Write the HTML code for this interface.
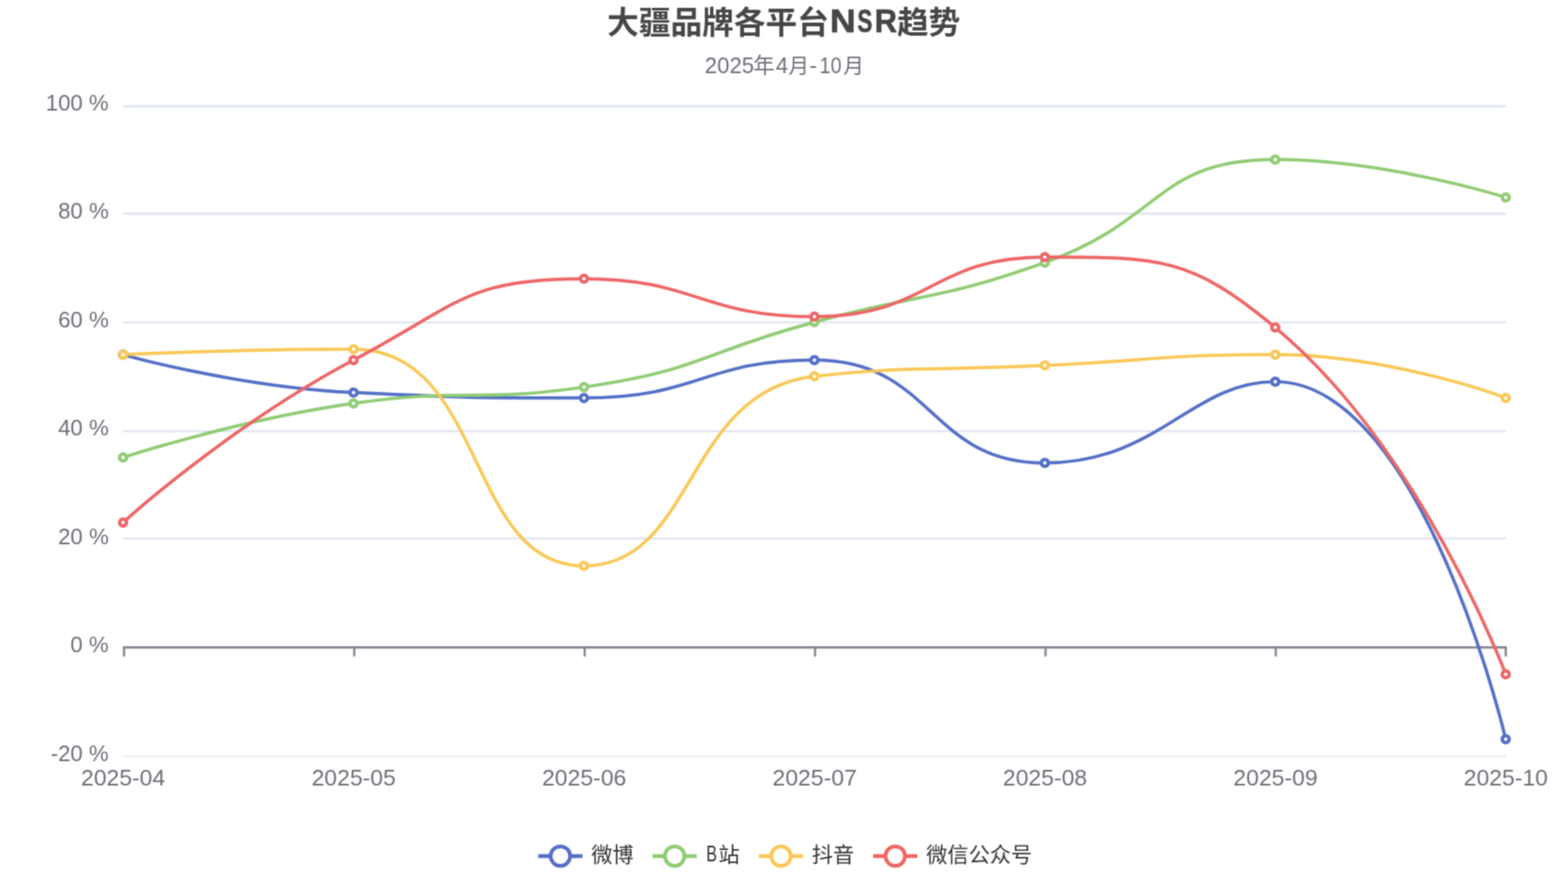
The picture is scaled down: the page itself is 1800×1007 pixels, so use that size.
<!DOCTYPE html>
<html lang="zh-CN"><head><meta charset="utf-8"><title>大疆品牌各平台NSR趋势</title>
<style>html,body{margin:0;padding:0;background:#fff;font-family:"Liberation Sans",sans-serif}svg{display:block;}</style>
</head><body>
<svg width="1800" height="1007" viewBox="0 0 1800 1007" font-family="Liberation Sans, sans-serif">
<defs><filter id="soft" filterUnits="userSpaceOnUse" x="0" y="0" width="1800" height="1007" color-interpolation-filters="sRGB"><feConvolveMatrix order="3" kernelMatrix="0.04000 0.12000 0.04000 0.12000 0.36000 0.12000 0.04000 0.12000 0.04000" divisor="1" edgeMode="duplicate" preserveAlpha="true"/></filter></defs>
<g filter="url(#soft)">
<rect width="1800" height="1007" fill="#fff"/>
<g stroke="#E0E6F1" stroke-width="2.4" fill="none">
<path stroke-width="2.8" d="M141.3 122.10H1728.5"/>
<path stroke-width="2.4" d="M141.3 245.20H1728.5"/>
<path stroke-width="2.4" d="M141.3 370.10H1728.5"/>
<path stroke-width="2.4" d="M141.3 495.10H1728.5"/>
<path stroke-width="2.4" d="M141.3 618.30H1728.5"/>
<path stroke-width="1.5" d="M141.3 868.40H1728.5"/>
</g>
<g stroke="#858893" stroke-width="2.6" fill="none">
<path d="M140.9 743.40H1729.8"/>
<path d="M142.40 743.40V753.80"/>
<path d="M406.73 743.40V753.80"/>
<path d="M671.17 743.40V753.80"/>
<path d="M935.70 743.40V753.80"/>
<path d="M1200.23 743.40V753.80"/>
<path d="M1464.57 743.40V753.80"/>
<path d="M1728.50 743.40V753.80"/>
</g>
<g>
<text x="52.50" y="127.00" font-size="25.5" fill="#6E7079" textLength="72.30" lengthAdjust="spacingAndGlyphs">100 %</text>
<text x="66.69" y="251.42" font-size="25.5" fill="#6E7079" textLength="58.12" lengthAdjust="spacingAndGlyphs">80 %</text>
<text x="66.69" y="375.84" font-size="25.5" fill="#6E7079" textLength="58.12" lengthAdjust="spacingAndGlyphs">60 %</text>
<text x="66.69" y="500.26" font-size="25.5" fill="#6E7079" textLength="58.12" lengthAdjust="spacingAndGlyphs">40 %</text>
<text x="66.69" y="624.68" font-size="25.5" fill="#6E7079" textLength="58.12" lengthAdjust="spacingAndGlyphs">20 %</text>
<text x="80.87" y="749.10" font-size="25.5" fill="#6E7079" textLength="43.94" lengthAdjust="spacingAndGlyphs">0 %</text>
<text x="58.20" y="873.52" font-size="25.5" fill="#6E7079" textLength="66.61" lengthAdjust="spacingAndGlyphs">-20 %</text>
</g>
<g>
<text x="93.13" y="901.50" font-size="25.5" fill="#6E7079" textLength="96.39" lengthAdjust="spacingAndGlyphs">2025-04</text>
<text x="357.66" y="901.50" font-size="25.5" fill="#6E7079" textLength="96.73" lengthAdjust="spacingAndGlyphs">2025-05</text>
<text x="622.19" y="901.50" font-size="25.5" fill="#6E7079" textLength="96.79" lengthAdjust="spacingAndGlyphs">2025-06</text>
<text x="886.72" y="901.50" font-size="25.5" fill="#6E7079" textLength="96.96" lengthAdjust="spacingAndGlyphs">2025-07</text>
<text x="1151.26" y="901.50" font-size="25.5" fill="#6E7079" textLength="96.77" lengthAdjust="spacingAndGlyphs">2025-08</text>
<text x="1415.79" y="901.50" font-size="25.5" fill="#6E7079" textLength="96.88" lengthAdjust="spacingAndGlyphs">2025-09</text>
<text x="1680.33" y="901.50" font-size="25.5" fill="#6E7079" textLength="96.65" lengthAdjust="spacingAndGlyphs">2025-10</text>
</g>
<path d="M141.30 407.17C141.30 407.17 272.70 444.41 405.83 450.71C537.23 456.93 538.97 456.93 670.37 456.93C803.50 456.93 807.77 413.39 934.90 413.39C1072.30 413.39 1065.03 531.59 1199.43 531.59C1329.56 531.59 1367.46 438.27 1463.97 438.27C1632.00 438.27 1728.50 848.86 1728.50 848.86" fill="none" stroke="#5470c6" stroke-width="3.7" stroke-linejoin="bevel"/>
<path d="M141.30 525.37C141.30 525.37 271.95 482.28 405.83 463.16C536.48 444.49 540.47 463.16 670.37 444.49C805.00 425.15 802.24 405.72 934.90 369.84C1066.77 334.18 1071.04 346.70 1199.43 301.41C1335.58 253.38 1326.57 183.21 1463.97 183.21C1591.10 183.21 1728.50 226.76 1728.50 226.76" fill="none" stroke="#91cc75" stroke-width="3.7" stroke-linejoin="bevel"/>
<path d="M141.30 407.17C141.30 407.17 294.33 400.94 405.83 400.94C558.87 400.94 534.25 649.79 670.37 649.79C798.78 649.79 785.69 448.15 934.90 432.05C1050.23 419.61 1067.17 425.83 1199.43 419.61C1331.70 413.39 1332.78 407.17 1463.97 407.17C1597.31 407.17 1728.50 456.93 1728.50 456.93" fill="none" stroke="#fac858" stroke-width="3.7" stroke-linejoin="bevel"/>
<path d="M141.30 600.02C141.30 600.02 264.10 488.38 405.83 413.39C528.64 348.41 535.11 320.07 670.37 320.07C799.64 320.07 803.89 363.62 934.90 363.62C1068.42 363.62 1067.98 295.19 1199.43 295.19C1332.51 295.19 1367.00 295.19 1463.97 376.06C1631.53 515.81 1728.50 774.21 1728.50 774.21" fill="none" stroke="#ee6666" stroke-width="3.7" stroke-linejoin="bevel"/>
<g fill="#fff" stroke="#5470c6" stroke-width="4">
<circle cx="141.30" cy="407.17" r="4"/>
<circle cx="405.83" cy="450.71" r="4"/>
<circle cx="670.37" cy="456.93" r="4"/>
<circle cx="934.90" cy="413.39" r="4"/>
<circle cx="1199.43" cy="531.59" r="4"/>
<circle cx="1463.97" cy="438.27" r="4"/>
<circle cx="1728.50" cy="848.86" r="4"/>
</g>
<g fill="#fff" stroke="#91cc75" stroke-width="4">
<circle cx="141.30" cy="525.37" r="4"/>
<circle cx="405.83" cy="463.16" r="4"/>
<circle cx="670.37" cy="444.49" r="4"/>
<circle cx="934.90" cy="369.84" r="4"/>
<circle cx="1199.43" cy="301.41" r="4"/>
<circle cx="1463.97" cy="183.21" r="4"/>
<circle cx="1728.50" cy="226.76" r="4"/>
</g>
<g fill="#fff" stroke="#fac858" stroke-width="4">
<circle cx="141.30" cy="407.17" r="4"/>
<circle cx="405.83" cy="400.94" r="4"/>
<circle cx="670.37" cy="649.79" r="4"/>
<circle cx="934.90" cy="432.05" r="4"/>
<circle cx="1199.43" cy="419.61" r="4"/>
<circle cx="1463.97" cy="407.17" r="4"/>
<circle cx="1728.50" cy="456.93" r="4"/>
</g>
<g fill="#fff" stroke="#ee6666" stroke-width="4">
<circle cx="141.30" cy="600.02" r="4"/>
<circle cx="405.83" cy="413.39" r="4"/>
<circle cx="670.37" cy="320.07" r="4"/>
<circle cx="934.90" cy="363.62" r="4"/>
<circle cx="1199.43" cy="295.19" r="4"/>
<circle cx="1463.97" cy="376.06" r="4"/>
<circle cx="1728.50" cy="774.21" r="4"/>
</g>
<text x="697.05" y="39.40" font-size="36.35" fill="#464646" font-weight="bold" font-family="Liberation Sans, Noto Sans CJK SC, sans-serif" textLength="254.45" lengthAdjust="spacingAndGlyphs">大疆品牌各平台</text>
<text stroke="#464646" stroke-width="0.7" x="952.86" y="37.10" font-size="36.3" fill="#464646" font-weight="bold" textLength="29.60" lengthAdjust="spacingAndGlyphs">N</text>
<text stroke="#464646" stroke-width="0.7" x="984.26" y="37.10" font-size="36.3" fill="#464646" font-weight="bold" textLength="17.14" lengthAdjust="spacingAndGlyphs">S</text>
<text stroke="#464646" stroke-width="0.7" x="1003.91" y="37.10" font-size="36.3" fill="#464646" font-weight="bold" textLength="25.83" lengthAdjust="spacingAndGlyphs">R</text>
<text x="1029.70" y="39.40" font-size="36.3" fill="#464646" font-weight="bold" font-family="Liberation Sans, Noto Sans CJK SC, sans-serif" textLength="72.6" lengthAdjust="spacingAndGlyphs">趋势</text>
<g>
<text x="809.12" y="83.75" font-size="25.4" fill="#6E7079" textLength="56.55" lengthAdjust="spacingAndGlyphs">2025</text>
<text x="864.75" y="83.75" font-size="24.5" fill="#6E7079" font-family="Liberation Sans, Noto Sans CJK SC, sans-serif">年</text>
<text x="890.41" y="83.75" font-size="25.4" fill="#6E7079" textLength="14.35" lengthAdjust="spacingAndGlyphs">4</text>
<text x="905.34" y="83.75" font-size="23.4" fill="#6E7079" font-family="Liberation Sans, Noto Sans CJK SC, sans-serif">月</text>
<text x="929.24" y="83.75" font-size="25.4" fill="#6E7079" textLength="8.73" lengthAdjust="spacingAndGlyphs">-</text>
<text x="940.87" y="83.75" font-size="25.4" fill="#6E7079" textLength="25.21" lengthAdjust="spacingAndGlyphs">10</text>
<text x="968.02" y="83.75" font-size="23.8" fill="#6E7079" font-family="Liberation Sans, Noto Sans CJK SC, sans-serif">月</text>
</g>
<path d="M617.9 983.0H668.7" stroke="#5470c6" stroke-width="4.3" fill="none"/>
<circle cx="643.3" cy="983.0" r="11.2" fill="#fff" stroke="#5470c6" stroke-width="4.2"/>
<text x="678.70" y="989.75" font-size="24.35" fill="#333" font-family="Liberation Sans, Noto Sans CJK SC, sans-serif" textLength="48.7" lengthAdjust="spacingAndGlyphs">微博</text>
<path d="M749.1 983.0H799.9" stroke="#91cc75" stroke-width="4.3" fill="none"/>
<circle cx="774.5" cy="983.0" r="11.2" fill="#fff" stroke="#91cc75" stroke-width="4.2"/>
<text x="810.87" y="989.00" font-size="25.4" fill="#333" textLength="12.41" lengthAdjust="spacingAndGlyphs">B</text>
<text x="824.70" y="989.75" font-size="24.35" fill="#333" font-family="Liberation Sans, Noto Sans CJK SC, sans-serif">站</text>
<path d="M871.1 983.0H921.9" stroke="#fac858" stroke-width="4.3" fill="none"/>
<circle cx="896.5" cy="983.0" r="11.2" fill="#fff" stroke="#fac858" stroke-width="4.2"/>
<text x="932.00" y="989.75" font-size="24.35" fill="#333" font-family="Liberation Sans, Noto Sans CJK SC, sans-serif" textLength="48.7" lengthAdjust="spacingAndGlyphs">抖音</text>
<path d="M1002.3 983.0H1053.1" stroke="#ee6666" stroke-width="4.3" fill="none"/>
<circle cx="1027.7" cy="983.0" r="11.2" fill="#fff" stroke="#ee6666" stroke-width="4.2"/>
<text x="1063.20" y="989.75" font-size="24.35" fill="#333" font-family="Liberation Sans, Noto Sans CJK SC, sans-serif" textLength="121.75" lengthAdjust="spacingAndGlyphs">微信公众号</text>
</g>
</svg>
</body></html>
